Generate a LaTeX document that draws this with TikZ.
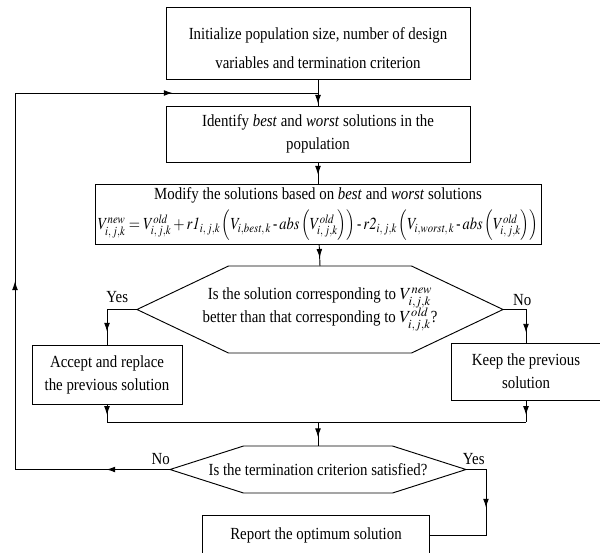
\documentclass[tikz,border=0pt]{standalone}
\usepackage{mathptmx}
\usepackage{graphicx}
\usepackage{fontspec}
\setmainfont{Liberation Serif}[FakeStretch=0.875]
\usetikzlibrary{positioning, arrows.meta, calc, decorations.markings}

% Sechseck um einen Knoten: Name, halbe Oberkante, halbe Hoehe, halbe Breite
\newcommand{\sechseck}[4]{%
  \draw[rand] ($(#1)+(-#2,-#3)$) -- ($(#1)+(#2,-#3)$) -- ($(#1)+(#4,0)$) coordinate (#1E)
    -- ($(#1)+(#2,#3)$) -- ($(#1)+(-#2,#3)$) -- ($(#1)+(-#4,0)$) coordinate (#1W) -- cycle;
  \coordinate (#1N) at ($(#1)+(0,-#3)$);}

\begin{document}
\begin{tikzpicture}[x=0.03cm, y=-0.03cm,
      font=\fontsize{14.5}{19.5}\selectfont,
      rand/.style={draw, line width=0.8pt},
      kasten/.style={rand, align=center, inner sep=0pt},
      frage/.style={align=center, inner sep=0pt},
      marke/.style={inner sep=0pt},
      pfeil/.style={line width=0.8pt, decoration={markings,
        mark=at position #1 with {\arrow{Latex[length=7.5pt,width=5pt]}}},
        postaction={decorate}},
      pfeil/.default=-7pt]
    \useasboundingbox (0,0) rectangle (600,552);

    \node[kasten, minimum width=9.12cm, minimum height=2.16cm] (init) at (318,43)
      {\rule{0pt}{19pt}Initialize population size, number of design\\[6pt]variables and termination criterion};
    \node[kasten, minimum width=9.12cm, minimum height=1.68cm] (ident) at (318,134)
      {Identify \textit{best} and \textit{worst} solutions in the\\population};
    \node[kasten, minimum width=13.38cm, minimum height=1.8cm] (mod) at (318,214)
      {Modify the solutions based on \textit{best} and \textit{worst} solutions\\[5pt]
       \scalebox{0.855}[1]{$V^{\mathit{new}}_{i,\,j,k} = V^{\mathit{old}}_{i,\,j,k} + r\mathit{1}_{i,\,j,k}\left(V_{i,\mathit{best},\,k} \mathbin{\mbox{-}} \mathit{abs}\left(V^{\mathit{old}}_{i,\,j,k}\right)\right)\mathbin{\mbox{-}} r\mathit{2}_{i,\,j,k}\left(V_{i,\mathit{worst},\,k} \mathbin{\mbox{-}} \mathit{abs}\left(V^{\mathit{old}}_{i,\,j,k}\right)\right)$}};

    \node[frage] (cmp) at (320,309.5)
      {Is the solution corresponding to $V^{\mathit{new}}_{i,j,k}$\\
       better than that corresponding to $V^{\mathit{old}}_{i,j,k}$?};
    \sechseck{cmp}{91.5}{43.5}{183}

    \node[kasten, minimum width=4.5cm, minimum height=1.77cm] (acc) at (107,374.5)
      {Accept and replace\\the previous solution};
    \node[kasten, minimum width=4.5cm, minimum height=1.71cm] (keep) at (526,371.5)
      {Keep the previous\\solution};

    \node[frage] (chk) at (318,469.5) {Is the termination criterion satisfied?};
    \sechseck{chk}{74.5}{23.5}{148}

    \node[kasten, minimum width=6.81cm, minimum height=1.2cm] (rep) at (316,535)
      {Report the optimum solution};

    \node[marke, above left=0.2cm and 0.26cm of cmpW] (ja1) {Yes};
    \node[marke, above right=0.1cm and 0.3cm of cmpE] (nein1) {No};
    \node[marke, above left=0.15cm and 0cm of chkW] (nein2) {No};
    \node[marke, above right=0.15cm and -0.1cm of chkE] (ja2) {Yes};

    \coordinate (mrg) at (318,422);
    \coordinate (lpB) at (15,469.5);
    \coordinate (lpT) at (15,93);
    \coordinate (lpJ) at (318,93);

    \draw[pfeil=-1.5pt] (init) -- (ident);
    \draw[pfeil=-7.5pt] (ident) -- (mod);
    \draw[pfeil] (mod) -- (cmpN);
    \draw[pfeil=-11pt] (cmpW) -| (acc.north);
    \draw[pfeil=-8.5pt] (cmpE) -| (keep.north);
    \draw[pfeil=-6pt] (acc.south) -- (acc.south |- mrg);
    \draw[pfeil=-6pt] (keep.south) -- (keep.south |- mrg);
    \draw[rand] (acc.south |- mrg) -- (keep.south |- mrg);
    \draw[pfeil=-7.5pt] (mrg) -- (chkN);
    \draw[pfeil=0.41] (chkE) -| ($(rep.east)+(56,0)$) -- (rep.east);
    % Ruecksprung
    \draw[pfeil=0.41] (chkW) -- (lpB);
    \draw[pfeil=0.5] (lpB) -- (lpT);
    \draw[pfeil=0.52] (lpT) -- (lpJ);
  \end{tikzpicture}
\end{document}
